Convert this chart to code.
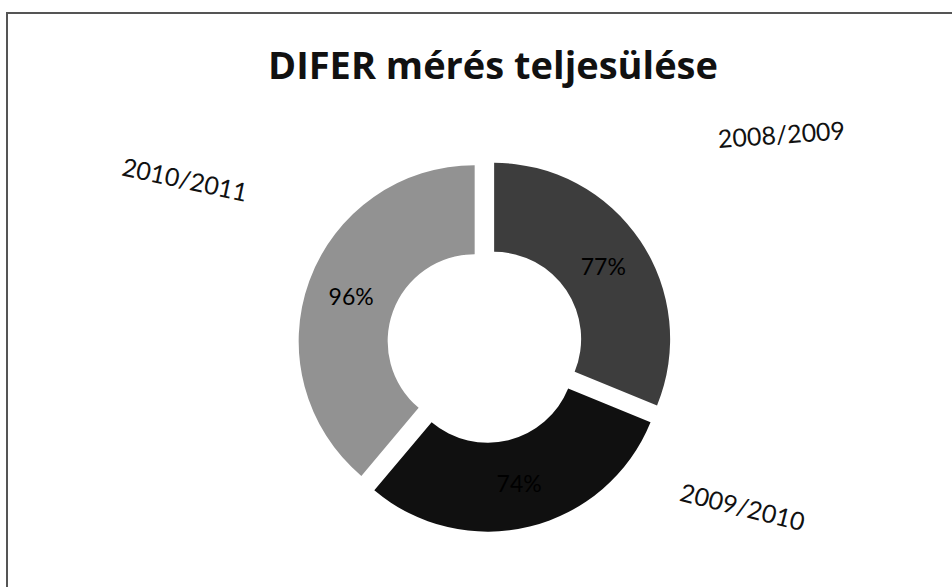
<!DOCTYPE html>
<html>
<head>
<meta charset="utf-8">
<script src="https://cdn.jsdelivr.net/npm/d3@7"></script>
<style>
  body { margin: 0; background: #fff; }
  svg { display: block; }
</style>
</head>
<body>
<svg></svg>
<script>
// school years and DIFER completion (%)
const years = ["2008/2009", "2009/2010", "2010/2011"];
const completion = [77, 74, 96];
const shades = ["#3d3d3d", "#101010", "#929292"];
const titleText = "DIFER mérés teljesülése";

// where the hand-placed category labels sit: angle (deg, clockwise from top), distance from centre, tilt
const labelLayout = [
  { angle: 54.5, dist: 364, tilt: -4 },
  { angle: 122, dist: 304, tilt: 14 },
  { angle: 299, dist: 343, tilt: 12 }
];

function draw() {
  const width = 952;
  const height = 587;
  const cx = 485;
  const cy = 345;
  const outerR = 176;
  const innerR = 87;
  const explode = 11;

  const svg = d3
    .select("svg")
    .attr("width", width)
    .attr("height", height);

  // frame of the chart area (right and bottom edges are cut off in the scan)
  svg
    .append("rect")
    .attr("x", 7)
    .attr("y", 13)
    .attr("width", width + 20)
    .attr("height", height + 20)
    .attr("fill", "none")
    .attr("stroke", "#555")
    .attr("stroke-width", 2);

  svg
    .append("text")
    .attr("x", 493)
    .attr("y", 79)
    .attr("text-anchor", "middle")
    .attr("font-family", "'Open Sans', Lato, sans-serif")
    .attr("font-weight", "bold")
    .attr("font-size", 38)
    .attr("fill", "#111")
    .text(titleText);

  const rows = years.map((y, i) => ({ year: y, value: completion[i], shade: shades[i] }));

  const pie = d3
    .pie()
    .sort(null)
    .value(d => d.value);
  const arc = d3
    .arc()
    .innerRadius(innerR)
    .outerRadius(outerR);

  const plot = svg.append("g").attr("transform", `translate(${cx},${cy})`);

  const slices = plot
    .selectAll("g.slice")
    .data(pie(rows))
    .join("g")
    .classed("slice", true)
    .attr("transform", d => {
      const mid = (d.startAngle + d.endAngle) / 2;
      return `translate(${explode * Math.sin(mid)},${-explode * Math.cos(mid)})`;
    });

  slices
    .append("path")
    .attr("d", arc)
    .attr("fill", d => d.data.shade);

  // value labels in black, as in the original (the one on the darkest slice is all but lost)
  slices
    .append("text")
    .attr("transform", d => `translate(${arc.centroid(d)})`)
    .attr("text-anchor", "middle")
    .attr("dominant-baseline", "central")
    .attr("font-family", "Lato, 'Open Sans', sans-serif")
    .attr("font-size", 23)
    .attr("fill", "#000")
    .text(d => d.data.value + "%");

  // category labels around the ring
  plot
    .selectAll("text.cat")
    .data(rows)
    .join("text")
    .classed("cat", true)
    .attr("transform", (d, i) => {
      const l = labelLayout[i];
      const a = (l.angle * Math.PI) / 180;
      return `translate(${l.dist * Math.sin(a)},${-l.dist * Math.cos(a)}) rotate(${l.tilt})`;
    })
    .attr("text-anchor", "middle")
    .attr("dominant-baseline", "central")
    .attr("font-family", "Lato, 'Open Sans', sans-serif")
    .attr("font-size", 25)
    .attr("fill", "#111")
    .text(d => d.year);
}

draw();
</script>
</body>
</html>
